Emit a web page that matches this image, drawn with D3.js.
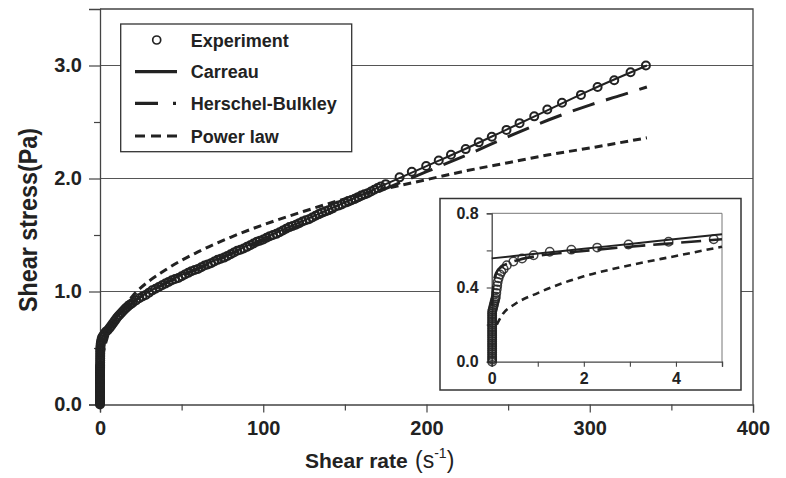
<!DOCTYPE html>
<html><head><meta charset="utf-8">
<script src="https://cdn.jsdelivr.net/npm/d3@7"></script>
<style>body{margin:0;background:#fff}svg{display:block}text{font-family:"Liberation Sans",Arial,sans-serif}</style>
</head><body><svg id="c" width="786" height="478"></svg>
<script>
// ---- data ----
const expRate = [
  0.01,0.01,0.01,0.01,0.01,0.01,0.01,0.01,0.01,0.01,0.01,0.01,0.01,0.01,
  0.01,0.01,0.01,0.01,0.01,0.01,0.01,0.01,0.01,0.01,0.01,0.01,0.01,0.01,
  0.02,0.03,0.04,0.05,0.06,0.07,0.08,0.09,0.1,0.11,0.12,0.13,0.15,0.18,0.21,0.26,0.33,0.47,0.66,0.91,1.26,1.73,2.29,2.97,3.84,4.82,
  6,7,8,9,10,11,12,13,14,15,16,17,18,19,
  20,22,24,26,28,30,32,34,36,38,40,42,44,46,48,50,52,54,56,58,
  60,62,64,66,68,70,72,74,76,78,80,82,84,86,88,90,92,94,96,98,
  100,102,104,106,108,110,112,114,116,118,120,122,124,126,128,130,132,134,136,138,
  140,142,144,146,148,150,152,154,156,158,160,162,164,166,168,170,172,
  175,183.5,191,199.8,207.5,215,224,232,240,249,257,266,274,283,294.6,304.8,315,325,334.4];
const expStress = [
  0,0.01,0.02,0.03,0.04,0.05,0.06,0.07,0.08,0.09,0.1,0.11,0.12,0.13,
  0.14,0.15,0.16,0.17,0.18,0.19,0.2,0.21,0.22,0.23,0.24,0.25,0.26,0.27,
  0.28,0.29,0.3,0.31,0.32,0.33,0.34,0.35,0.37,0.39,0.41,0.43,0.45,0.47,0.485,0.5,0.52,0.54,0.556,0.574,0.593,0.604,0.615,0.632,0.647,0.66,
  0.68,0.7,0.72,0.74,0.76,0.778,0.795,0.81,0.825,0.84,0.855,0.868,0.88,0.89,
  0.9,0.92,0.94,0.955,0.97,0.99,1.01,1.025,1.04,1.055,1.07,1.085,1.1,1.11,1.12,1.135,1.15,1.165,1.18,1.19,
  1.2,1.215,1.23,1.24,1.25,1.265,1.28,1.29,1.3,1.315,1.33,1.345,1.36,1.37,1.38,1.395,1.41,1.425,1.44,1.45,
  1.46,1.475,1.49,1.5,1.51,1.525,1.54,1.555,1.57,1.58,1.59,1.605,1.62,1.63,1.64,1.655,1.67,1.685,1.7,1.71,
  1.72,1.735,1.75,1.76,1.77,1.785,1.8,1.81,1.82,1.835,1.85,1.86,1.87,1.885,1.9,1.915,1.93,
  1.95,2.01,2.06,2.11,2.16,2.21,2.26,2.32,2.37,2.43,2.49,2.55,2.61,2.67,2.74,2.81,2.87,2.94,3.0];

const carreauRate   = [0,1,2,3,4,5,10,20,40,60,80,100,125,150,175,200,225,250,275,300,335];
const carreauStress = [0.557,0.583,0.609,0.635,0.661,0.687,0.77,0.9,1.08,1.21,1.34,1.47,1.63,1.79,1.95,2.11,2.27,2.44,2.61,2.78,3.0];

const hbRate   = [0.01,0.03,0.06,0.1,0.2,0.35,0.6,1,2,3,4,5,10,20,40,60,80,100,125,150,175,200,225,250,275,300,320,335];
const hbStress = [0.3,0.4,0.45,0.48,0.51,0.53,0.55,0.57,0.597,0.62,0.64,0.66,0.76,0.9,1.07,1.2,1.33,1.45,1.6,1.75,1.91,2.06,2.21,2.37,2.52,2.65,2.74,2.81];

const plRate   = [0.11,0.25,0.5,1,1.5,2,3,4,5,10,20,40,60,80,100,125,150,175,200,225,250,275,300,335];
const plStress = [0.2,0.26,0.31,0.37,0.42,0.46,0.52,0.57,0.62,0.77,0.96,1.19,1.35,1.48,1.59,1.71,1.82,1.91,1.99,2.07,2.14,2.21,2.27,2.36];

const mainXTicks = [0,100,200,300,400];
const mainYTicks = [0,1,2,3];
const insetXTicks = [0,2,4];
const insetYTicks = [0,0.4,0.8];
const legendLabels = ["Experiment","Carreau","Herschel-Bulkley","Power law"];

// ---- drawing ----
const ink = "#222", frame = "#444";
const svg = d3.select("#c");
const zip = (a,b) => a.map((v,i)=>[v,b[i]]);

const x = d3.scaleLinear().domain([0,400]).range([100,753]);
const y = d3.scaleLinear().domain([0,3.5]).range([404.5,9]);

// gridlines
svg.append("g").selectAll("line").data(mainYTicks.filter(d=>d>0)).join("line")
  .attr("x1",x(0)).attr("x2",x(400)).attr("y1",d=>y(d)).attr("y2",d=>y(d))
  .attr("stroke","#555").attr("stroke-width",1.1);

// frame top/right
svg.append("path").attr("d",`M${x(0)},${y(3.5)}H${x(400)}V${y(0)}`)
  .attr("fill","none").attr("stroke",frame).attr("stroke-width",1.3);

// axes
svg.append("g").attr("transform",`translate(0,${y(0)})`)
  .call(d3.axisBottom(x).tickValues(mainXTicks).tickSize(8).tickPadding(8).tickFormat(d3.format("d")));
svg.append("g").attr("transform",`translate(0,${y(0)})`)
  .call(d3.axisBottom(x).tickValues([50,150,250,350]).tickSize(6).tickFormat(""))
  .call(g=>g.select(".domain").remove());
svg.append("g").attr("transform",`translate(${x(0)},0)`)
  .call(d3.axisLeft(y).tickValues(mainYTicks).tickSize(11).tickPadding(7).tickFormat(d3.format(".1f")));
svg.append("g").attr("transform",`translate(${x(0)},0)`)
  .call(d3.axisLeft(y).tickValues([0.5,1.5,2.5]).tickSize(6).tickFormat(""))
  .call(g=>g.select(".domain").remove());
svg.selectAll(".domain").attr("stroke",frame).attr("stroke-width",1.3);
svg.selectAll(".tick line").attr("stroke",frame).attr("stroke-width",1.2);
svg.selectAll(".tick text").attr("font-size",20).attr("font-weight","bold").attr("fill",ink)
  .attr("font-family","Liberation Sans, Arial, sans-serif");

// curves
const line = (sx,sy) => d3.line().x(d=>sx(d[0])).y(d=>sy(d[1])).curve(d3.curveMonotoneX);
const gm = svg.append("g");
gm.append("path").datum(zip(plRate,plStress)).attr("d",line(x,y))
  .attr("fill","none").attr("stroke",ink).attr("stroke-width",3).attr("stroke-dasharray","8,5");
gm.append("path").datum(zip(hbRate,hbStress)).attr("d",line(x,y))
  .attr("fill","none").attr("stroke",ink).attr("stroke-width",3).attr("stroke-dasharray","23,12");
gm.append("path").datum(zip(carreauRate,carreauStress)).attr("d",line(x,y))
  .attr("fill","none").attr("stroke",ink).attr("stroke-width",2);
gm.append("g").selectAll("circle").data(zip(expRate,expStress)).join("circle")
  .attr("cx",d=>x(d[0])).attr("cy",d=>y(d[1])).attr("r",4)
  .attr("fill","none").attr("stroke",ink).attr("stroke-width",2);

// axis titles
svg.append("text").attr("transform","translate(37,220) rotate(-90)")
  .attr("text-anchor","middle").attr("font-size",26).attr("font-weight","bold").attr("fill",ink)
  .attr("textLength",184).attr("lengthAdjust","spacingAndGlyphs").text("Shear stress(Pa)");
svg.append("text").attr("x",305).attr("y",468).attr("fill",ink)
  .attr("font-size",21).attr("font-weight","bold").text("Shear rate");
const xu = svg.append("text").attr("x",415).attr("y",468).attr("fill",ink);
xu.append("tspan").attr("font-size",23).text("(s");
xu.append("tspan").attr("font-size",14).attr("dy",-10).text("-1");
xu.append("tspan").attr("font-size",23).attr("dy",10).text(")");

// legend
const lg = svg.append("g");
lg.append("rect").attr("x",120.7).attr("y",24).attr("width",231).attr("height",127.7)
  .attr("fill","#fff").attr("stroke","#333").attr("stroke-width",1.3);
const rowY = [40,71.7,103.3,136];
lg.append("circle").attr("cx",156.7).attr("cy",rowY[0]).attr("r",4)
  .attr("fill","none").attr("stroke",ink).attr("stroke-width",1.7);
lg.append("line").attr("x1",135).attr("x2",177).attr("y1",rowY[1]).attr("y2",rowY[1])
  .attr("stroke",ink).attr("stroke-width",3.2);
lg.append("line").attr("x1",135).attr("x2",177).attr("y1",rowY[2]).attr("y2",rowY[2])
  .attr("stroke",ink).attr("stroke-width",3.2).attr("stroke-dasharray","23,15,3,100");
lg.append("line").attr("x1",135).attr("x2",178).attr("y1",rowY[3]).attr("y2",rowY[3])
  .attr("stroke",ink).attr("stroke-width",3.2).attr("stroke-dasharray","10,6");
lg.selectAll("text").data(legendLabels).join("text")
  .attr("x",190.7).attr("y",(d,i)=>rowY[i]+6.5).attr("font-size",18).attr("font-weight","bold")
  .attr("fill",ink).text(d=>d);

// inset
const ins = svg.append("g");
ins.append("rect").attr("x",440).attr("y",198.5).attr("width",301).attr("height",191.5)
  .attr("fill","#fff").attr("stroke","#333").attr("stroke-width",1.5);
const ix = d3.scaleLinear().domain([0,5]).range([491.7,722]);
const iy = d3.scaleLinear().domain([0,0.8]).range([361.7,213.3]);
ins.append("path").attr("d",`M${ix(0)},${iy(0.8)}H${ix(5)}V${iy(0)}`)
  .attr("fill","none").attr("stroke","#777").attr("stroke-width",1);
ins.append("g").attr("transform",`translate(0,${iy(0)})`)
  .call(d3.axisBottom(ix).tickValues([0,1,2,3,4,5]).tickSize(5).tickPadding(6)
    .tickFormat(d=>insetXTicks.includes(d)?d3.format("d")(d):""));
ins.append("g").attr("transform",`translate(${ix(0)},0)`)
  .call(d3.axisLeft(iy).tickValues([0,0.2,0.4,0.6,0.8]).tickSize(5).tickPadding(8)
    .tickFormat(d=>insetYTicks.some(t=>Math.abs(t-d)<1e-9)?d3.format(".1f")(d):""));
ins.selectAll(".domain").attr("stroke",frame).attr("stroke-width",1.3);
ins.selectAll(".tick line").attr("stroke",frame).attr("stroke-width",1.1);
ins.selectAll(".tick text").attr("font-size",16).attr("font-weight","bold").attr("fill",ink)
  .attr("font-family","Liberation Sans, Arial, sans-serif");
const inRange = (r,s) => zip(r,s).filter(d=>d[0]<=5);
ins.append("path").datum(inRange(plRate,plStress)).attr("d",line(ix,iy))
  .attr("fill","none").attr("stroke",ink).attr("stroke-width",2.6).attr("stroke-dasharray","7,5");
ins.append("path").datum(inRange(hbRate,hbStress)).attr("d",line(ix,iy))
  .attr("fill","none").attr("stroke",ink).attr("stroke-width",2.6).attr("stroke-dasharray","20,8");
ins.append("path").datum(inRange(carreauRate,carreauStress)).attr("d",line(ix,iy))
  .attr("fill","none").attr("stroke",ink).attr("stroke-width",2);
ins.append("g").selectAll("circle").data(inRange(expRate,expStress)).join("circle")
  .attr("cx",d=>ix(d[0])).attr("cy",d=>iy(d[1])).attr("r",4.2)
  .attr("fill","none").attr("stroke",ink).attr("stroke-width",1.5).attr("stroke-opacity",0.85);
</script></body></html>
